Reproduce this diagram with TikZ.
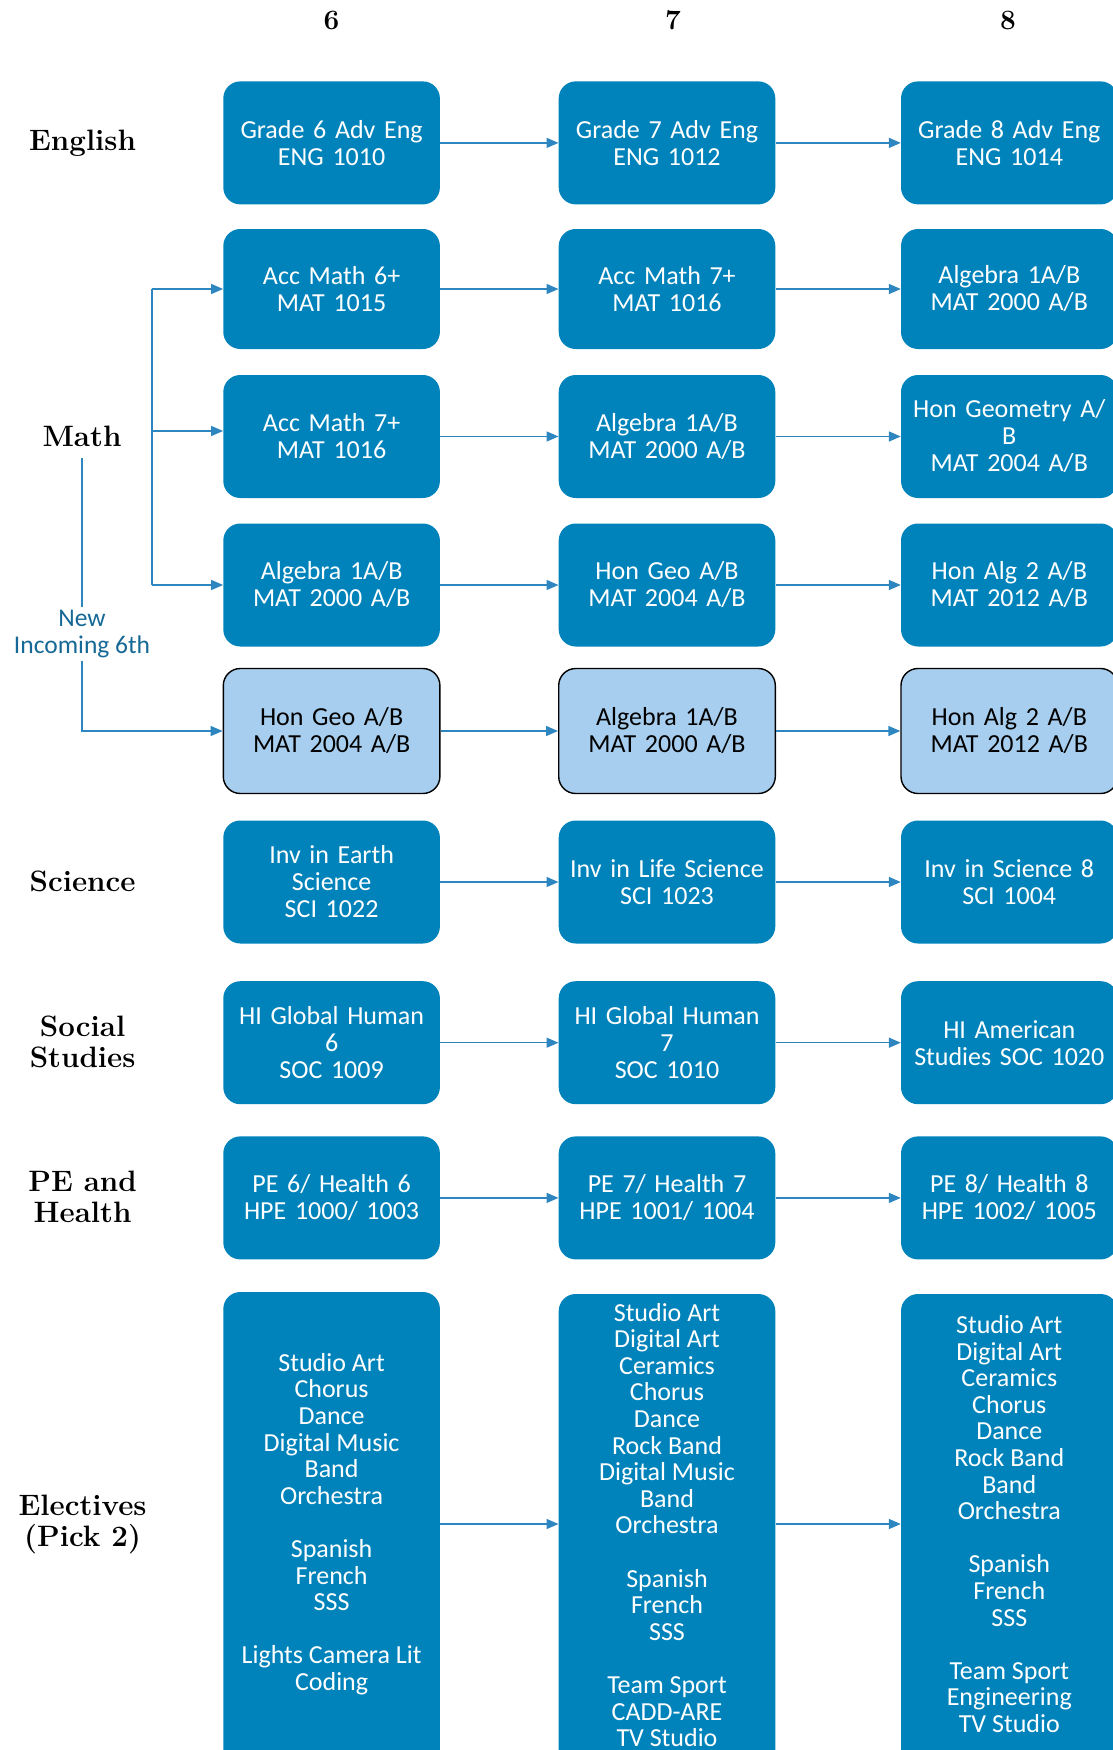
\documentclass[tikz,border=0pt]{standalone}
\usepackage{fontspec}
\newfontfamily\boxfont{Carlito}
\usetikzlibrary{arrows.meta,calc}
\definecolor{boxblue}{RGB}{0,131,186}
\definecolor{lightbox}{RGB}{167,206,238}
\definecolor{arrowblue}{RGB}{46,134,193}
\definecolor{newblue}{RGB}{22,105,150}
\begin{document}
\begin{tikzpicture}[x=1pt,y=-1pt,
  course/.style={rounded corners=17pt, fill=boxblue, text=white,
    font=\boxfont\fontsize{26}{27}\selectfont, align=center,
    minimum width=216.6pt, minimum height=123pt, inner sep=0pt, text width=212pt},
  lightcourse/.style={course, fill=lightbox, text=black, draw=black, line width=1.4pt},
  electext/.style={text=white, font=\boxfont\fontsize{26}{26.6}\selectfont, align=center, inner sep=0pt},
  rowlabel/.style={font=\fontsize{29.5}{31}\selectfont\bfseries, align=center, inner sep=4pt},
  header/.style={font=\fontsize{28}{31}\selectfont\bfseries},
  newtxt/.style={text=newblue, font=\boxfont\fontsize{25.5}{26.8}\selectfont, align=center, inner sep=3pt},
  conn/.style={draw=arrowblue, line width=1.5pt},
  arr/.style={conn, -{Triangle[length=12pt,width=10pt]}}
]
\useasboundingbox (0,0) rectangle (1113,1750);
\clip (0,0) rectangle (1113,1750);
\fill[white] (0,0) rectangle (1113,1750);

% headers
\node[header] (h6) at (331.6,20) {6};
\node[header] (h7) at (673,20) {7};
\node[header] (h8) at (1008,20) {8};

% row labels
\node[rowlabel] (lEng) at (82.6,142.9) {English};
\node[rowlabel, inner sep=11pt] (lMath) at (82,436.5) {Math};
\node[rowlabel] (lSci) at (82.6,881) {Science};
\node[rowlabel] (lSoc) at (82.6,1041.6) {Social\\Studies};
\node[rowlabel] (lPE) at (82.6,1197.3) {PE and\\Health};
\node[rowlabel] (lEl) at (82.6,1524.5) {Electives\\(Pick 2)};
\node[newtxt] (new) at (82,634) {New\\Incoming 6th};

% English
\node[course] (e1) at (331.6,142.9) {Grade 6 Adv Eng\\ENG 1010};
\node[course] (e2) at (667,142.9) {Grade 7 Adv Eng\\ENG 1012};
\node[course] (e3) at (1009.3,142.9) {Grade 8 Adv Eng\\ENG 1014};

% Math
\node[course, minimum height=120pt] (m1a) at (331.6,289) {Acc Math 6+\\MAT 1015};
\node[course, minimum height=120pt] (m1b) at (667,289) {Acc Math 7+\\MAT 1016};
\node[course, minimum height=120pt] (m1c) at (1009.3,289) {Algebra 1A/B\\MAT 2000 A/B};

\node[course] (m2a) at (331.6,436.5) {Acc Math 7+\\MAT 1016};
\node[course] (m2b) at (667,436.5) {Algebra 1A/B\\MAT 2000 A/B};
\node[course] (m2c) at (1009.3,436.5) {Hon Geometry A/\\B\\MAT 2004 A/B};

\node[course] (m3a) at (331.6,585) {Algebra 1A/B\\MAT 2000 A/B};
\node[course] (m3b) at (667,585) {Hon Geo A/B\\MAT 2004 A/B};
\node[course] (m3c) at (1009.3,585) {Hon Alg 2 A/B\\MAT 2012 A/B};

\node[lightcourse, minimum height=125pt] (m4a) at (331.6,731) {Hon Geo A/B\\MAT 2004 A/B};
\node[lightcourse, minimum height=125pt] (m4b) at (667,731) {Algebra 1A/B\\MAT 2000 A/B};
\node[lightcourse, minimum height=125pt] (m4c) at (1009.3,731) {Hon Alg 2 A/B\\MAT 2012 A/B};

% Science
\node[course] (s1) at (331.6,882) {Inv in Earth\\Science\\SCI 1022};
\node[course] (s2) at (667,882) {Inv in Life Science\\SCI 1023};
\node[course] (s3) at (1009.3,882) {Inv in Science 8\\SCI 1004};

% Social Studies
\node[course] (o1) at (331.6,1042.7) {HI Global Human\\6\\SOC 1009};
\node[course] (o2) at (667,1042.7) {HI Global Human\\7\\SOC 1010};
\node[course] (o3) at (1009.3,1042.7) {HI American\\Studies SOC 1020};

% PE
\node[course] (p1) at (331.6,1197.9) {PE 6/ Health 6\\HPE 1000/ 1003};
\node[course] (p2) at (667,1197.9) {PE 7/ Health 7\\HPE 1001/ 1004};
\node[course] (p3) at (1009.3,1197.9) {PE 8/ Health 8\\HPE 1002/ 1005};

% Electives
\node[course, minimum height=498pt] (b1) at (331.6,1541) {};
\node[course, minimum height=496pt] (b2) at (667,1542) {};
\node[course, minimum height=496pt] (b3) at (1009.3,1542) {};
\node[electext] (t1) at (331.6,1524) {Studio Art\\Chorus\\Dance\\Digital Music\\Band\\Orchestra\\[26.6pt]Spanish\\French\\SSS\\[26.6pt]Lights Camera Lit\\Coding};
\node[electext] (t2) at (667,1525) {Studio Art\\Digital Art\\Ceramics\\Chorus\\Dance\\Rock Band\\Digital Music\\Band\\Orchestra\\[26.6pt]Spanish\\French\\SSS\\[26.6pt]Team Sport\\CADD-ARE\\TV Studio};
\node[electext] (t3) at (1009.3,1524) {Studio Art\\Digital Art\\Ceramics\\Chorus\\Dance\\Rock Band\\Band\\Orchestra\\[26.6pt]Spanish\\French\\SSS\\[26.6pt]Team Sport\\Engineering\\TV Studio};

% connectors
\foreach \a/\b in {e1/e2,e2/e3,m1a/m1b,m1b/m1c,m2a/m2b,m2b/m2c,m3a/m3b,m3b/m3c,m4a/m4b,m4b/m4c,s1/s2,s2/s3,o1/o2,o2/o3,p1/p2,p2/p3}
  \draw[arr] (\a.east) -- (\b.west);
\draw[arr] (t1 -| b1.east) -- (t1 -| b2.west);
\draw[arr] (t1 -| b2.east) -- (t1 -| b3.west);

% math branch
\coordinate (brT) at (151.8,289);
\coordinate (brM) at (151.8,431);
\coordinate (brB) at (151.8,585);
\draw[conn] (brT) -- (brB);
\draw[arr] (brT) -- (m1a.west);
\draw[arr] (brM) -- (brM -| m2a.west);
\draw[arr] (brB) -- (m3a.west);

% new incoming
\draw[conn] (lMath.south) -- (new.north);
\draw[arr] (new.south) |- (m4a.west);
\end{tikzpicture}
\end{document}
